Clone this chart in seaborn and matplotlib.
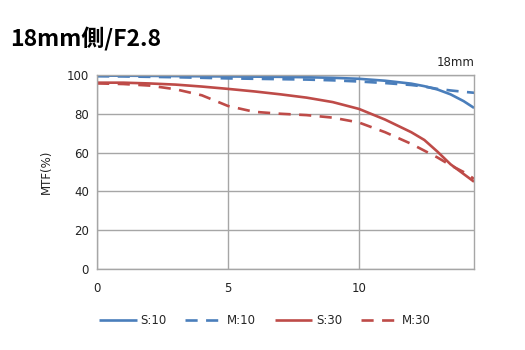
import matplotlib
matplotlib.use("Agg")
import matplotlib.pyplot as plt
import seaborn as sns
import pandas as pd

# Image height (mm) sample positions
image_height = [0, 1, 2, 3, 4, 5, 6, 7, 8, 9, 10, 11, 12, 12.5, 13, 13.5, 14, 14.4]

# MTF values (%) per series
s10 = [99.6, 99.6, 99.5, 99.4, 99.3, 99.2, 99.1, 99.0, 98.8, 98.5, 98.0, 97.0, 95.5, 94.2, 92.5, 90.0, 86.5, 83.0]
m10 = [99.3, 99.2, 99.0, 98.8, 98.5, 98.2, 98.0, 97.8, 97.6, 97.2, 96.6, 95.8, 94.8, 94.0, 92.8, 92.0, 91.3, 90.8]
s30 = [96.0, 96.0, 95.6, 95.0, 94.0, 92.8, 91.5, 90.0, 88.3, 86.0, 82.5, 77.0, 70.5, 66.5, 60.5, 54.0, 49.0, 45.0]
m30 = [95.6, 95.3, 94.5, 92.6, 89.5, 84.0, 81.0, 80.0, 79.3, 78.0, 75.5, 70.5, 64.5, 61.0, 57.5, 53.5, 50.0, 46.5]

series_names = ["S:10", "M:10", "S:30", "M:30"]
series_values = [s10, m10, s30, m30]
y_ticks = [0, 20, 40, 60, 80, 100]
x_ticks = [0, 5, 10]

blue = "#4a7ebb"
red = "#be4b48"
styles = {
    "S:10": dict(color=blue, dashed=False),
    "M:10": dict(color=blue, dashed=True),
    "S:30": dict(color=red, dashed=False),
    "M:30": dict(color=red, dashed=True),
}

df = pd.concat(
    [pd.DataFrame({"h": image_height, "mtf": v, "series": n})
     for n, v in zip(series_names, series_values)],
    ignore_index=True,
)

sns.set_theme(style="white")
plt.rcParams["font.family"] = ["DejaVu Sans", "Noto Sans CJK JP"]

fig = plt.figure(figsize=(5.25, 3.5), dpi=100)
ax = fig.add_axes([0.185, 0.231, 0.718, 0.555])

for name in series_names:
    st = styles[name]
    sub = df[df["series"] == name]
    sns.lineplot(data=sub, x="h", y="mtf", ax=ax, color=st["color"],
                 linewidth=1.9, label=name, legend=False)
    ln = ax.lines[-1]
    if st["dashed"]:
        ln.set_dashes((4.6, 3.2))
    ln.set_solid_capstyle("butt")
    ln.set_dash_capstyle("butt")

ax.set_xlim(0, 14.4)
ax.set_ylim(0, 100)
ax.set_xticks(x_ticks)
ax.set_yticks(y_ticks)
ax.grid(True, color="#a6a6a6", linewidth=1.0)
ax.set_axisbelow(True)
for sp in ax.spines.values():
    sp.set_color("#a6a6a6")
    sp.set_linewidth(1.0)
ax.tick_params(axis="both", length=0, labelsize=8.5, colors="#222222", pad=6)
ax.tick_params(axis="x", pad=9)
ax.set_xlabel("")
ax.set_ylabel("MTF(%)", fontsize=8.5, color="#222222", labelpad=10)

ax.text(1.0, 1.03, "18mm", transform=ax.transAxes, ha="right", va="bottom",
        fontsize=8.5, color="#222222")

fig.text(0.02, 0.89, "18mm側/F2.8", fontsize=16.5, fontweight="bold",
         ha="left", va="center", color="#000000",
         family=["Liberation Sans Narrow", "Noto Sans CJK JP"])

handles, labels = ax.get_legend_handles_labels()
fig.legend(handles, labels, loc="center", bbox_to_anchor=(0.505, 0.083), ncol=4,
           frameon=False, fontsize=8.5, handlelength=3.2, columnspacing=1.6,
           handletextpad=0.3)

fig.savefig("out.png", dpi=100, facecolor="white")
